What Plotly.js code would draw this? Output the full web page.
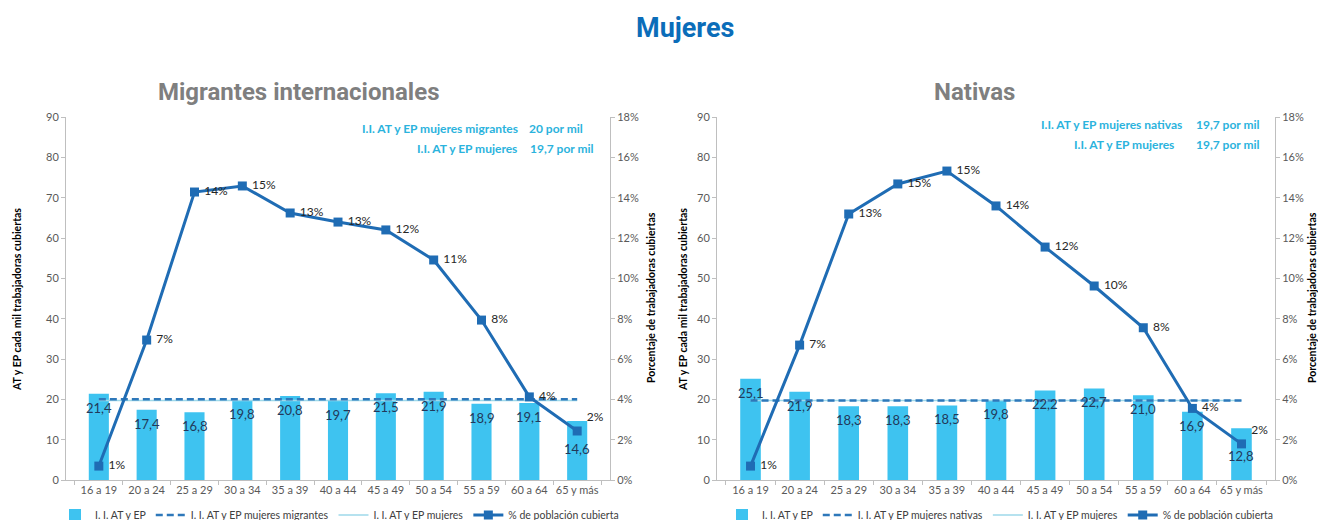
<!DOCTYPE html>
<html>
<head>
<meta charset="utf-8">
<script src="https://cdn.plot.ly/plotly-3.0.1.min.js"></script>
<style>html,body{margin:0;padding:0;background:#fff;}#chart{width:1318px;height:520px;}</style>
</head>
<body>
<div id="chart"></div>
<script>
// ---- data ----
var categories = ['16 a 19','20 a 24','25 a 29','30 a 34','35 a 39','40 a 44','45 a 49','50 a 54','55 a 59','60 a 64','65 y más'];

// Migrantes internacionales
var migRate = [21.4, 17.4, 16.8, 19.8, 20.8, 19.7, 21.5, 21.9, 18.9, 19.1, 14.6];
var migPct  = [0.69, 6.94, 14.28, 14.58, 13.24, 12.79, 12.40, 10.91, 7.93, 4.12, 2.43];
var migGroupRate = 20;
var allWomenRate = 19.7;

// Nativas
var natRate = [25.1, 21.9, 18.3, 18.3, 18.5, 19.8, 22.2, 22.7, 21.0, 16.9, 12.8];
var natPct  = [0.69, 6.69, 13.19, 14.68, 15.32, 13.59, 11.55, 9.62, 7.55, 3.55, 1.79];
var natGroupRate = 19.7;

// texts
var mainTitle = 'Mujeres';
var leftTitle = 'Migrantes internacionales';
var rightTitle = 'Nativas';
var yLeftTitle = 'AT y EP cada mil trabajadoras cubiertas';
var yRightTitle = 'Porcentaje de trabajadoras cubiertas';
var nameBars = 'I. I. AT y EP';
var nameMigLine = 'I. I. AT y EP mujeres migrantes';
var nameNatLine = 'I. I. AT y EP mujeres nativas';
var nameAllLine = 'I. I. AT y EP mujeres';
var namePct = '% de población cubierta';

// ---- helpers ----
var W = 1318, H = 520;
function px(x){ return x / W; }
function py(y){ return (H - y) / H; }
function comma(v){ return v.toFixed(1).replace('.', ','); }
function flat(v){ return categories.map(function(){ return v; }); }

var FONT = 'Lato, "Open Sans", sans-serif';
var BAR_COLOR = '#3EC3F0';
var LINE_COLOR = '#1F6CB4';
var DASH_COLOR = '#2E78BA';
var THIN_COLOR = '#9ED9EA';
var CYAN_TXT = '#2BB3DD';

// label placement styles (last point label sits above the marker)
function pctTextPos(){
  return categories.map(function(c, i){ return i === categories.length - 1 ? 'top right' : 'middle right'; });
}

function panelTraces(rate, pct, groupRate, groupName, xa, ya, ya2, legendId){
  return [
    {type:'bar', x:categories, y:rate, xaxis:xa, yaxis:ya, name:nameBars, legend:legendId,
     marker:{color:BAR_COLOR}, width:0.42, legendrank:1},
    {type:'scatter', mode:'lines', x:categories, y:flat(allWomenRate), xaxis:xa, yaxis:ya,
     name:nameAllLine, legend:legendId, line:{color:THIN_COLOR, width:1.5}, legendrank:3},
    {type:'scatter', mode:'lines', x:categories, y:flat(groupRate), xaxis:xa, yaxis:ya,
     name:groupName, legend:legendId, line:{color:DASH_COLOR, width:2.5, dash:'7px,4px'}, legendrank:2},
    {type:'scatter', mode:'lines+markers+text', x:categories, y:pct, xaxis:xa, yaxis:ya2,
     name:namePct, legend:legendId, line:{color:LINE_COLOR, width:3},
     marker:{symbol:'square', size:9, color:LINE_COLOR},
     text:pct.map(function(v){ return '\u00a0' + Math.round(v) + '%'; }),
     textposition:pctTextPos(), textfont:{family:FONT, size:12, color:'#262626'},
     cliponaxis:false, legendrank:4}
  ];
}

var traces = []
  .concat(panelTraces(migRate, migPct, migGroupRate, nameMigLine, 'x', 'y', 'y2', 'legend'))
  .concat(panelTraces(natRate, natPct, natGroupRate, nameNatLine, 'x2', 'y3', 'y4', 'legend2'));

var yDom = [py(480), py(117)];
var axisCommon = {
  showgrid:false, zeroline:false, showline:true, linecolor:'#BFBFBF', linewidth:1,
  ticks:'outside', ticklen:4, tickcolor:'#BFBFBF', automargin:false,
  tickfont:{family:FONT, size:11, color:'#595959'}, fixedrange:true
};
function ax(extra){ return Object.assign({}, axisCommon, extra); }

var annotations = [];
function addBarLabels(rate, xa, ya){
  rate.forEach(function(v, i){
    var last = i === rate.length - 1;
    annotations.push({xref:xa, yref:ya, x:categories[i], y:v, text:comma(v),
      showarrow:false, yanchor:'top', yshift:last ? -18 : -4,
      font:{family:FONT, size:13, color:'#22395A'}});
  });
}
addBarLabels(migRate, 'x', 'y');
addBarLabels(natRate, 'x2', 'y3');

function txt(x, y, text, opts){
  annotations.push(Object.assign({xref:'paper', yref:'paper', x:px(x), y:py(y), text:text,
    showarrow:false, xanchor:'center', yanchor:'middle'}, opts));
}
// titles
txt(685, 28, '<b>' + mainTitle + '</b>', {font:{family:'Roboto, sans-serif', size:27, color:'#0B6DB9'}});
txt(298, 92, '<b>' + leftTitle + '</b>', {font:{family:'Roboto, sans-serif', size:24, color:'#7F7F7F'}});
txt(975, 92, '<b>' + rightTitle + '</b>', {font:{family:'Roboto, sans-serif', size:24, color:'#7F7F7F'}});
// axis titles
var axTitleFont = {family:FONT, size:10.5, color:'#000000'};
txt(17, 300, '<b>' + yLeftTitle + '</b>', {textangle:-90, font:axTitleFont});
txt(651, 298, '<b>' + yRightTitle + '</b>', {textangle:-90, font:axTitleFont});
txt(683, 300, '<b>' + yLeftTitle + '</b>', {textangle:-90, font:axTitleFont});
txt(1312, 298, '<b>' + yRightTitle + '</b>', {textangle:-90, font:axTitleFont});
// in-plot reference notes
var noteFont = {family:FONT, size:12, color:CYAN_TXT};
txt(520, 128, '<b>I.I. AT y EP mujeres migrantes</b>', {xanchor:'right', font:noteFont});
txt(527, 128, '<b>' + migGroupRate + ' por mil</b>', {xanchor:'left', font:noteFont});
txt(519, 148, '<b>I.I. AT y EP mujeres</b>', {xanchor:'right', font:noteFont});
txt(528, 148, '<b>' + comma(allWomenRate) + ' por mil</b>', {xanchor:'left', font:noteFont});
txt(1184, 124, '<b>I.I. AT y EP mujeres nativas</b>', {xanchor:'right', font:noteFont});
txt(1194, 124, '<b>' + comma(natGroupRate) + ' por mil</b>', {xanchor:'left', font:noteFont});
txt(1176, 144, '<b>I.I. AT y EP mujeres</b>', {xanchor:'right', font:noteFont});
txt(1194, 144, '<b>' + comma(allWomenRate) + ' por mil</b>', {xanchor:'left', font:noteFont});

var legendCommon = {orientation:'h', yanchor:'middle', y:py(515), xanchor:'left',
  font:{family:FONT, size:10.5, color:'#404040'}, bgcolor:'rgba(0,0,0,0)',
  traceorder:'normal', itemwidth:30, tracegroupgap:0};

var layout = {
  width:W, height:H, margin:{l:0, r:0, t:0, b:0, autoexpand:false},
  paper_bgcolor:'#ffffff', plot_bgcolor:'#ffffff',
  showlegend:true,
  font:{family:FONT},
  xaxis: ax({domain:[px(66), px(610)], anchor:'y', type:'category', tickson:'boundaries', tickangle:0}),
  yaxis: ax({domain:yDom, anchor:'x', range:[0, 90], dtick:10}),
  yaxis2: ax({overlaying:'y', side:'right', anchor:'x', range:[0, 18], dtick:2, ticksuffix:'%'}),
  xaxis2: ax({domain:[px(717), px(1275)], anchor:'y3', type:'category', tickson:'boundaries', tickangle:0}),
  yaxis3: ax({domain:yDom, anchor:'x2', range:[0, 90], dtick:10}),
  yaxis4: ax({overlaying:'y3', side:'right', anchor:'x2', range:[0, 18], dtick:2, ticksuffix:'%'}),
  legend: Object.assign({}, legendCommon, {x:px(55)}),
  legend2: Object.assign({}, legendCommon, {x:px(722)}),
  annotations: annotations
};

Plotly.newPlot('chart', traces, layout, {displayModeBar:false, staticPlot:true});
</script>
</body>
</html>
